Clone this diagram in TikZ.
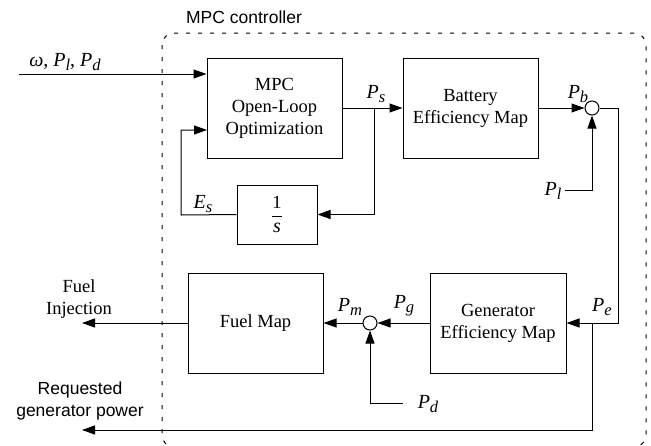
\documentclass[tikz,border=0pt]{standalone}
\usepackage{fontspec}
\setmainfont{Liberation Serif}
\setsansfont{Liberation Sans}
\usetikzlibrary{arrows.meta}
\newcommand{\pv}[2]{\textit{#1}\raisebox{-0.4ex}{\fontsize{16.5}{16.5}\selectfont\textit{#2}}}
\begin{document}
\begin{tikzpicture}[x=1pt,y=-1pt,
  blk/.style={draw,line width=1pt,align=center,inner sep=0pt,font=\fontsize{18.5}{22}\selectfont},
  sumc/.style={draw,circle,line width=1pt,minimum size=14pt,inner sep=0pt},
  arr/.style={line width=1pt,-{Triangle[length=13pt,width=9pt]}},
  lbl/.style={font=\fontsize{20}{24}\selectfont,inner sep=0pt},
  slbl/.style={font=\sffamily\fontsize{17.5}{21.5}\selectfont,inner sep=0pt,align=center}]
\useasboundingbox (0,0) rectangle (651,445);
\begin{scope}
\clip (0,0) rectangle (651,445);
\draw[line width=1pt,dash pattern=on 4pt off 8pt,rounded corners=12pt] (162,33) rectangle (646,447);
\end{scope}
\node[slbl] (title) at (244,17) {MPC controller};
% blocks
\node[blk,minimum width=135pt,minimum height=100pt] (mpc) at (274.5,108) {MPC\\Open-Loop\\Optimization};
\node[blk,minimum width=135pt,minimum height=100pt] (batt) at (470.5,108) {Battery\\Efficiency Map};
\node[blk,minimum width=80pt,minimum height=59pt] (int) at (277,214.5) {$\displaystyle\frac{\mbox{1}}{\mbox{\fontsize{20}{20}\selectfont\textit{s}}}$};
\node[blk,minimum width=136pt,minimum height=100pt] (gen) at (498,323) {Generator\\Efficiency Map};
\node[blk,minimum width=135pt,minimum height=100pt] (fuel) at (255.5,323) {Fuel Map};
\node[sumc] (s1) at (592,108) {};
\node[sumc] (s2) at (370,323) {};
% coordinates
\coordinate (in) at (19,74);
\coordinate (esc) at (181,215);
\coordinate (mpcin2) at (207,130);
\coordinate (psj) at (374,108);
\coordinate (plin) at (565,190);
\coordinate (c1) at (618,108);
\coordinate (pdin) at (403,403);
\coordinate (fout) at (82,323);
\coordinate (pej) at (592,323);
\coordinate (rout) at (82,430);
% connectors
\draw[arr] (in) -- (in -| mpc.west);
\draw[arr] (int.west) -- (esc) |- (mpcin2);
\draw[arr] (mpc.east) -- (batt.west);
\draw[arr] (psj) |- (int.east);
\draw[arr] (batt.east) -- (s1.west);
\draw[arr] (plin) -| (s1.south);
\draw[arr] (s1.east) -- (c1) |- (gen.east);
\draw[arr] (gen.west) -- (s2.east);
\draw[arr] (pdin) -| (s2.south);
\draw[arr] (s2.west) -- (fuel.east);
\draw[arr] (fuel.west) -- (fout);
\draw[arr] (pej) |- (rout);
% labels
\node[lbl] (lin) at (65,62) {\textit{ω}, \pv{P}{l}, \pv{P}{d}};
\node[lbl] (les) at (203,204) {\pv{E}{s}};
\node[lbl] (lps) at (376,94) {\pv{P}{s}};
\node[lbl] (lpb) at (578,94) {\pv{P}{b}};
\node[lbl] (lpl) at (553,191) {\pv{P}{l}};
\node[lbl] (lpe) at (602,307) {\pv{P}{e}};
\node[lbl] (lpg) at (404,306) {\pv{P}{g}};
\node[lbl] (lpm) at (350,307) {\pv{P}{m}};
\node[lbl] (lpd) at (428,404) {\pv{P}{d}};
\node[lbl,align=center,font=\fontsize{18.5}{22}\selectfont] (lfi) at (79,299) {Fuel\\Injection};
\node[slbl] (lrg) at (80,401) {Requested\\generator power};
\end{tikzpicture}
\end{document}
